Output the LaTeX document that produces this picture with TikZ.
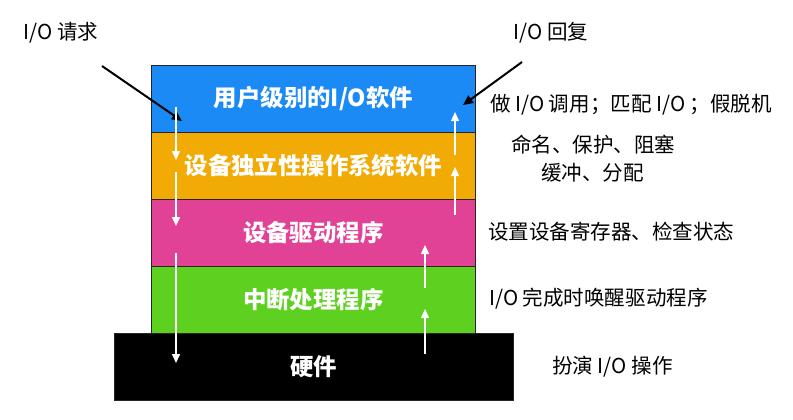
\documentclass[tikz,border=0pt]{standalone}
\usepackage{fontspec}
\setmainfont{Noto Sans CJK SC}
\usetikzlibrary{arrows.meta}
\definecolor{cblue}{RGB}{28,138,244}
\definecolor{corange}{RGB}{242,170,4}
\definecolor{cpink}{RGB}{225,66,150}
\definecolor{cgreen}{RGB}{94,208,32}
\tikzset{
  layer/.style={draw=black!85, line width=0.8bp, minimum width=324bp, minimum height=67bp, inner sep=0pt, text=white, font=\fontsize{23.5}{26}\selectfont\bfseries},
  note/.style={anchor=west, inner sep=0pt, font=\fontsize{20.6}{24}\selectfont},
  warrow/.style={draw=white, line width=1.5bp, -{Triangle[width=8bp,length=9bp]}},
  barrow/.style={draw=black, line width=2bp, -{Triangle[width=9bp,length=10bp]}}
}
\begin{document}
\begin{tikzpicture}[x=1bp,y=-1bp]
\useasboundingbox (0,0) rectangle (793,419);
\node[layer, fill=cblue, anchor=north west] (L1) at (151,65) {用户级别的I/O软件};
\node[layer, fill=corange, anchor=north west] (L2) at (151,132) {设备独立性操作系统软件};
\node[layer, fill=cpink, anchor=north west] (L3) at (151,199) {设备驱动程序};
\node[layer, fill=cgreen, anchor=north west] (L4) at (151,266) {中断处理程序};
\node[layer, fill=black, minimum width=399bp, anchor=north west] (HW) at (114,333) {硬件};

% labels
\node[note, anchor=center] (req) at (61,33) {I/O 请求};
\node[note, anchor=center] (rep) at (551,33) {I/O 回复};
\node[note] (n1) at (490,105) {做 I/O 调用；匹配 I/O ；假脱机};
\node[note] (n2) at (511,145) {命名、保护、阻塞};
\node[note] (n3) at (541,173) {缓冲、分配};
\node[note] (n4) at (488,232) {设置设备寄存器、检查状态};
\node[note] (n5) at (489,299) {I/O 完成时唤醒驱动程序};
\node[note] (n6) at (552,367) {扮演 I/O 操作};

% coordinates for arrows
\coordinate (ra) at (102,66);
\coordinate (rb) at (182,121);
\coordinate (pa) at (522,62);
\coordinate (pb) at (463,105);
\draw[barrow] (ra) -- (rb);
\draw[barrow] (pa) -- (pb);

\coordinate (d1a) at (176,107);
\coordinate (d1b) at (176,160);
\coordinate (d2a) at (176,172);
\coordinate (d2b) at (176,226);
\coordinate (d3a) at (176,253);
\coordinate (d3b) at (176,363);
\draw[warrow] (d1a) -- (d1b);
\draw[warrow] (d2a) -- (d2b);
\draw[warrow] (d3a) -- (d3b);

\coordinate (u1a) at (455,155);
\coordinate (u1b) at (455,112);
\coordinate (u2a) at (455,215);
\coordinate (u2b) at (455,167);
\coordinate (u3a) at (425,288);
\coordinate (u3b) at (425,245);
\coordinate (u4a) at (425,354);
\coordinate (u4b) at (425,309);
\draw[warrow] (u1a) -- (u1b);
\draw[warrow] (u2a) -- (u2b);
\draw[warrow] (u3a) -- (u3b);
\draw[warrow] (u4a) -- (u4b);
\end{tikzpicture}
\end{document}
